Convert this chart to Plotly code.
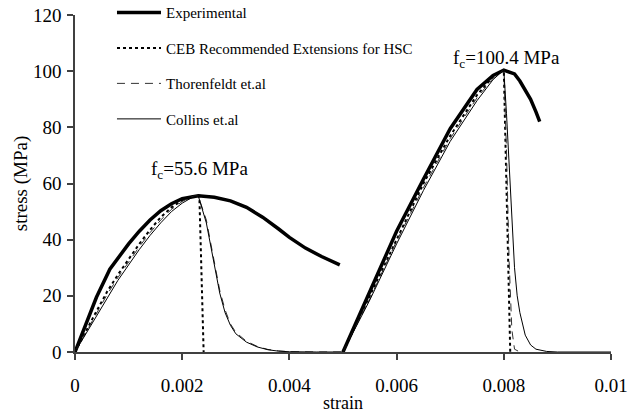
import plotly.graph_objects as go

# ---- data ----
# Specimen 1 (fc = 55.6 MPa)
exp1_strain = [0, 0.0002, 0.0004, 0.00065, 0.0008, 0.001, 0.0012, 0.0014, 0.0016, 0.0018,
               0.002, 0.0022, 0.0023, 0.0026, 0.0029, 0.0032, 0.0035, 0.0038, 0.004,
               0.0043, 0.0046, 0.00494]
exp1_stress = [0, 10, 19.5, 29.5, 33.5, 38.5, 43, 47, 50.3, 52.8,
               54.6, 55.4, 55.6, 55.1, 53.8, 51.5, 48, 43.8, 40.8,
               37, 34, 31]

mod1_asc_strain = [0, 0.0002, 0.0004, 0.0006, 0.0008, 0.001, 0.0012, 0.0014, 0.0016,
                   0.0018, 0.002, 0.0022, 0.0023]
ceb1_asc = [0, 7.5, 14.5, 21.5, 27.5, 33, 38.5, 43.5, 48, 51.5, 54, 55.5, 55.6]
thor1_asc = [0, 7, 13.8, 20.5, 26.5, 32, 37.5, 42.5, 47, 50.8, 53.6, 55.4, 55.6]
col1_asc = [0, 6.5, 13, 19.5, 25.5, 31, 36.5, 41.5, 46, 50, 53, 55.2, 55.6]

ceb1_desc_strain = [0.00232, 0.0024]
ceb1_desc = [55.6, 0]

mod1_desc_strain = [0.00245, 0.0025, 0.0026, 0.0027, 0.0028, 0.0029, 0.003, 0.0032,
                    0.0034, 0.0036, 0.0038, 0.004, 0.0045, 0.005]
thor1_desc = [47, 42, 31, 22, 15, 10, 7, 3.8, 2, 0.9, 0.4, 0.1, 0, 0]
col1_desc = [46, 41, 30, 21, 14, 9.5, 6.5, 3.5, 1.8, 0.8, 0.3, 0.1, 0, 0]

# Specimen 2 (fc = 100.4 MPa)
exp2_strain = [0.005, 0.0055, 0.006, 0.0065, 0.007, 0.0075, 0.0078, 0.008, 0.0082,
               0.0083, 0.0084, 0.0085, 0.0086, 0.00867]
exp2_stress = [0, 21.5, 43, 61.5, 79.5, 93.5, 98.5, 100.4, 99,
               96.5, 93.5, 90, 85.5, 82]

mod2_asc_strain = [0.005, 0.0055, 0.006, 0.0065, 0.007, 0.0075, 0.0078, 0.008]
ceb2_asc = [0, 20, 40.5, 60, 77, 91.5, 98, 100.4]
thor2_asc = [0, 19, 39.5, 58.5, 76, 90.5, 97.5, 100.4]
col2_asc = [0, 18.5, 38.5, 57.5, 75, 89.5, 97, 100.4]

ceb2_desc_strain = [0.00812]
ceb2_desc = [0]

thor2_desc_strain = [0.00805, 0.0081, 0.00815, 0.0082, 0.0083]
thor2_desc = [72, 32, 8, 1, 0]

col2_desc_strain = [0.00805, 0.0081, 0.00815, 0.0082, 0.00825, 0.0083, 0.0084, 0.0085,
                    0.0086, 0.0088, 0.009, 0.01]
col2_desc = [85, 65, 48, 30, 20, 14, 6, 2.5, 1, 0.2, 0, 0]

peak_labels = ["f<sub>c</sub>=55.6 MPa", "f<sub>c</sub>=100.4 MPa"]
peak_label_x = [0.00233, 0.00805]
peak_label_y = [64.8, 104.2]

x_ticks = [0, 0.002, 0.004, 0.006, 0.008, 0.01]
x_tick_text = ["0", "0.002", "0.004", "0.006", "0.008", "0.01"]
y_ticks = [0, 20, 40, 60, 80, 100, 120]

FONT = "Liberation Serif"


def join(*parts):
    xs, ys = [], []
    for i, (px, py) in enumerate(parts):
        if i:
            xs.append(None)
            ys.append(None)
        xs += list(px)
        ys += list(py)
    return xs, ys


ex, ey = join((exp1_strain, exp1_stress), (exp2_strain, exp2_stress))
cx, cy = join((mod1_asc_strain + ceb1_desc_strain, ceb1_asc + ceb1_desc),
              (mod2_asc_strain + ceb2_desc_strain, ceb2_asc + ceb2_desc))
tx, ty = join((mod1_asc_strain + mod1_desc_strain, thor1_asc + thor1_desc),
              (mod2_asc_strain + thor2_desc_strain, thor2_asc + thor2_desc))
kx, ky = join((mod1_asc_strain + mod1_desc_strain, col1_asc + col1_desc),
              (mod2_asc_strain + col2_desc_strain, col2_asc + col2_desc))

fig = go.Figure()
fig.add_trace(go.Scatter(x=ex, y=ey, mode="lines", name="Experimental",
                         line=dict(color="black", width=3.5), legendgroup="a"))
fig.add_trace(go.Scatter(x=cx, y=cy, mode="lines", name="CEB Recommended Extensions for HSC",
                         line=dict(color="black", width=2, dash="dot"), legendgroup="b"))
fig.add_trace(go.Scatter(x=tx, y=ty, mode="lines", name="Thorenfeldt et.al",
                         line=dict(color="#333333", width=1, dash="8px,6px"), legendgroup="c"))
fig.add_trace(go.Scatter(x=kx, y=ky, mode="lines", name="Collins et.al",
                         line=dict(color="black", width=1), legendgroup="d"))

for t, x, y in zip(peak_labels, peak_label_x, peak_label_y):
    fig.add_annotation(x=x, y=y, text=t, showarrow=False, xanchor="center", yanchor="middle",
                       font=dict(family=FONT, size=19, color="black"))

fig.update_layout(
    width=638, height=413,
    margin=dict(l=75, r=27, t=15, b=61, autoexpand=False),
    paper_bgcolor="white", plot_bgcolor="white",
    showlegend=True,
    legend=dict(x=0.069, y=1.056, xanchor="left", yanchor="top",
                bgcolor="rgba(0,0,0,0)", font=dict(family=FONT, size=15, color="black"),
                traceorder="grouped", tracegroupgap=13, itemwidth=44),
    xaxis=dict(range=[0, 0.01], tickvals=x_ticks, ticktext=x_tick_text,
               showgrid=False, zeroline=False, showline=True, linecolor="#404040", linewidth=1.5,
               ticks="outside", ticklen=6, tickcolor="#404040", tickwidth=1.5,
               tickfont=dict(family=FONT, size=19, color="black"), ticklabelstandoff=9,
               title=dict(text="strain", font=dict(family=FONT, size=18, color="black"), standoff=7)),
    yaxis=dict(range=[0, 120], tickvals=y_ticks,
               showgrid=False, zeroline=False, showline=True, linecolor="#404040", linewidth=1.5,
               ticks="outside", ticklen=6, tickcolor="#404040", tickwidth=1.5,
               tickfont=dict(family=FONT, size=19, color="black"), ticklabelstandoff=2,
               title=dict(text="stress (MPa)", font=dict(family=FONT, size=19, color="black"), standoff=0)),
)

fig.write_html("out.html")
